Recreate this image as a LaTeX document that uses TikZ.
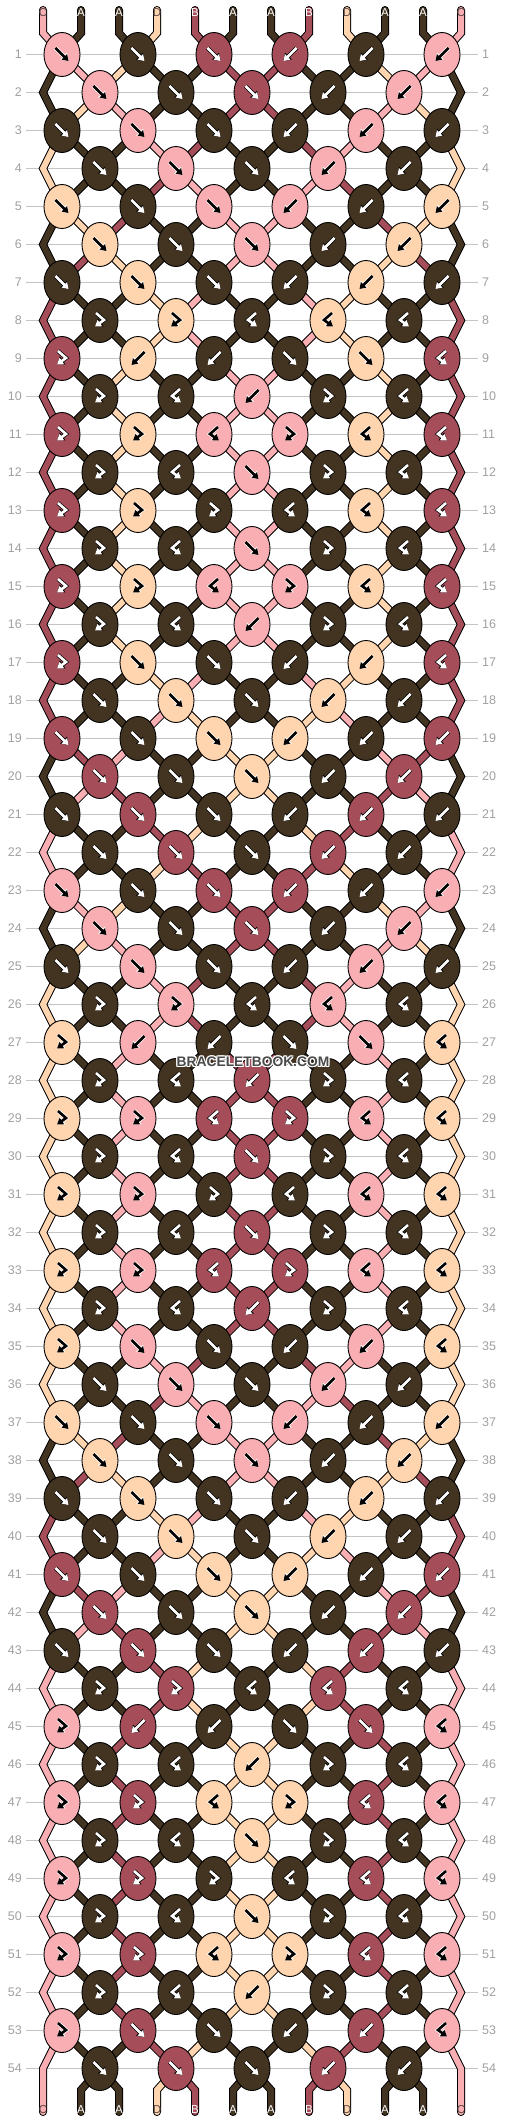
\documentclass[tikz,border=0pt]{standalone}
\usepackage{fontspec}
\setmainfont{Liberation Sans}
\usetikzlibrary{shapes.geometric,arrows.meta}

\definecolor{colA}{HTML}{433421}
\definecolor{colB}{HTML}{A64D5A}
\definecolor{colC}{HTML}{F8AEB2}
\definecolor{colD}{HTML}{FFD5AF}
\colorlet{tipA}{white}
\colorlet{tipB}{white}
\colorlet{tipC}{black}
\colorlet{tipD}{black}
\colorlet{rimA}{black}
\colorlet{rimB}{black}
\colorlet{rimC}{white}
\colorlet{rimD}{white}
\definecolor{labdark}{HTML}{5A4646}
\colorlet{labA}{white}
\colorlet{labB}{white}
\colorlet{labC}{labdark}
\colorlet{labD}{labdark}
\definecolor{gridgray}{HTML}{C4C4C4}
\definecolor{numgray}{HTML}{A0A0A0}
\definecolor{wmgray}{HTML}{4A4A4A}

\tikzset{
  strand/.style={draw=col#1, line width=6pt, line join=miter, line cap=round},
  strandrim/.style={draw=black, line width=8pt, line join=miter, line cap=round},
  knot/.style={ellipse, draw=black, line width=0.9pt, fill=col#1,
    minimum width=36pt, minimum height=44pt, inner sep=0pt},
  tipline/.style={draw=tip#1, line width=2.6pt, -{Triangle[length=6pt,width=7.5pt]}},
  tiprim/.style={draw=rim#1, line width=4pt, -{Triangle[length=7pt,width=9.5pt]}},
  tag/.style={text=lab#1, font=\fontsize{11.5}{12}\selectfont, inner sep=0pt},
  gridline/.style={draw=gridgray, line width=1pt},
  rowno/.style={text=numgray, font=\fontsize{12.5}{13}\selectfont, inner xsep=4pt, inner ysep=0pt},
  wmtext/.style={font=\bfseries\fontsize{13.8}{14}\selectfont, inner sep=0pt}
}

% knot types per row: f forward, b backward, g forward-backward, h backward-forward
\def\rowlist{1/{f,f,f,b,b,b},2/{f,f,f,b,b},3/{f,f,f,b,b,b},4/{f,f,f,b,b},
  5/{f,f,f,b,b,b},6/{f,f,f,b,b},7/{f,f,f,b,b,b},8/{g,g,h,h,h},
  9/{g,b,b,f,f,h},10/{g,h,b,g,h},11/{g,g,h,g,h,h},12/{g,h,f,g,h},
  13/{g,g,g,h,h,h},14/{g,h,f,g,h},15/{g,g,h,g,h,h},16/{g,h,b,g,h},
  17/{g,f,f,b,b,h},18/{f,f,f,b,b},19/{f,f,f,b,b,b},20/{f,f,f,b,b},
  21/{f,f,f,b,b,b},22/{f,f,f,b,b},23/{f,f,f,b,b,b},24/{f,f,f,b,b},
  25/{f,f,f,b,b,b},26/{g,g,h,h,h},27/{g,b,b,f,f,h},28/{g,h,b,g,h},
  29/{g,g,h,g,h,h},30/{g,h,f,g,h},31/{g,g,g,h,h,h},32/{g,h,f,g,h},
  33/{g,g,h,g,h,h},34/{g,h,b,g,h},35/{g,f,f,b,b,h},36/{f,f,f,b,b},
  37/{f,f,f,b,b,b},38/{f,f,f,b,b},39/{f,f,f,b,b,b},40/{f,f,f,b,b},
  41/{f,f,f,b,b,b},42/{f,f,f,b,b},43/{f,f,f,b,b,b},44/{g,g,h,h,h},
  45/{g,b,b,f,f,h},46/{g,h,b,g,h},47/{g,g,h,g,h,h},48/{g,h,f,g,h},
  49/{g,g,g,h,h,h},50/{g,h,f,g,h},51/{g,g,h,g,h,h},52/{g,h,b,g,h},
  53/{g,f,f,b,b,h},54/{f,f,f,b,b}}

% arrow glyphs
\def\arrf{(-6.5,-6.5) -- (6.5,6.5)}
\def\arrb{(6.5,-6.5) -- (-6.5,6.5)}
\def\arrg{(-4,-7.5) -- (4,-0.5) -- (-5,6)}
\def\arrh{(4,-7.5) -- (-4,-0.5) -- (5,6)}

% colour of the string at a position, and the path that brought it there
\newcount\weavemode
\newcommand\putcol[2]{\expandafter\xdef\csname sc#1\endcsname{#2}}
\newcommand\putpath[2]{\expandafter\xdef\csname sp#1\endcsname{#2}}
\newcommand\strandseg[2]{%
  \ifcase\weavemode\or\draw[strandrim] #1;\or\draw[strand=#2] #1;\fi}

% one pass over the pattern: 1 = string rims, 2 = string colours, 3 = knots
\newcommand\weave{%
  \foreach \c [count=\i from 0] in {C,A,A,D,B,A,A,B,D,A,A,C} {
    \coordinate (s\i) at (43+38*\i,10);
    \coordinate (t\i) at (43+38*\i,33);
    \coordinate (u\i) at (43+38*\i,2090);
    \coordinate (v\i) at (43+38*\i,2112);
    \putcol{\i}{\c}
    \putpath{\i}{(s\i) -- (t\i)}
  }
  \foreach \r/\ks in \rowlist {
    \pgfmathtruncatemacro\rowodd{mod(\r,2)}
    \pgfmathsetmacro\yy{16.5+38*\r}
    \ifnum\rowodd=0
      \coordinate (eL\r) at (43,\yy);
      \coordinate (eR\r) at (461,\yy);
      \putpath{0}{\csname sp0\endcsname -- (eL\r)}
      \putpath{11}{\csname sp11\endcsname -- (eR\r)}
    \fi
    \foreach \ty [count=\k from 0] in \ks {
      \pgfmathtruncatemacro\posL{2*\k+1-\rowodd}
      \pgfmathtruncatemacro\posR{\posL+1}
      \edef\colL{\csname sc\posL\endcsname}
      \edef\colR{\csname sc\posR\endcsname}
      \if\ty b\let\kc\colR\else\if\ty h\let\kc\colR\else\let\kc\colL\fi\fi
      \coordinate (c\r-\k) at (62+38*\posL,\yy);
      \ifnum\weavemode=3
        \node[knot=\kc] (k\r-\k) at (c\r-\k) {};
        \edef\cmd{\noexpand\draw[tiprim=\kc,shift={(k\r-\k.center)}] \csname arr\ty\endcsname;
          \noexpand\draw[tipline=\kc,shift={(k\r-\k.center)}] \csname arr\ty\endcsname;}\cmd
      \fi
      \edef\cmd{\noexpand\strandseg{\csname sp\posL\endcsname -- (c\r-\k)}{\colL}%
        \noexpand\strandseg{\csname sp\posR\endcsname -- (c\r-\k)}{\colR}}\cmd
      \putpath{\posL}{(c\r-\k)}
      \putpath{\posR}{(c\r-\k)}
      \if\ty f\putcol{\posL}{\colR}\putcol{\posR}{\colL}\fi
      \if\ty b\putcol{\posL}{\colR}\putcol{\posR}{\colL}\fi
    }
  }
  \foreach \i in {0,...,11} {
    \edef\colI{\csname sc\i\endcsname}
    \edef\cmd{\noexpand\strandseg{\csname sp\i\endcsname -- (u\i) -- (v\i)}{\colI}}\cmd
  }
}

\begin{document}
\begin{tikzpicture}[x=1pt,y=-1pt]
\useasboundingbox (0,0) rectangle (506,2124);

% row lines and numbers
\foreach \r in {1,...,54} {
  \node[rowno, anchor=east] (nl\r) at (26,16.5+38*\r) {\r};
  \node[rowno, anchor=west] (nr\r) at (478,16.5+38*\r) {\r};
  \draw[gridline] (nl\r) -- (nr\r);
}

\global\weavemode=1 \weave
\global\weavemode=2 \weave
\global\weavemode=3 \weave

% letters on the loose ends
\foreach \c [count=\i from 0] in {C,A,A,D,B,A,A,B,D,A,A,C} {
  \node[tag=\c] (lt\i) at (43+38*\i,13) {\c};
  \node[tag=\c] (lb\i) at (43+38*\i,2110) {\c};
}

% watermark
\foreach \dx/\dy [count=\w] in {1/0,-1/0,0/1,0/-1,1/1,1/-1,-1/1,-1/-1}
  \node[wmtext, text=white] (wm\w) at (253+\dx,1062+\dy) {BRACELETBOOK.COM};
\node[wmtext, text=wmgray] (wm) at (253,1062) {BRACELETBOOK.COM};
\end{tikzpicture}
\end{document}
